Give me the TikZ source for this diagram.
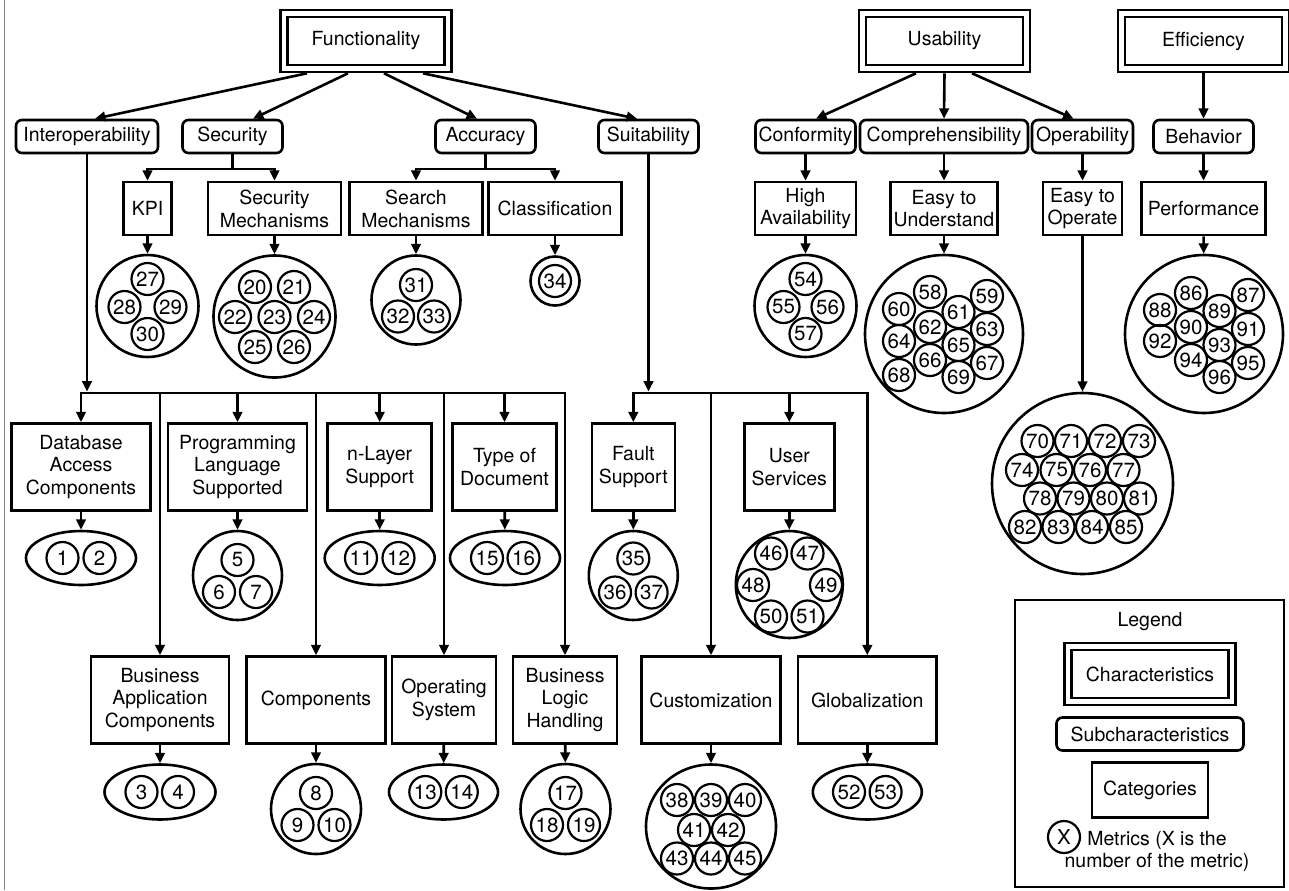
\documentclass[tikz,border=0pt]{standalone}
\usepackage{fontspec}
\setmainfont{TeX Gyre Heros}
\usetikzlibrary{shapes.geometric,arrows.meta,calc}
% one unit of the drawing grid
\newcommand\pxu{*0.75pt}
\begin{document}
\begin{tikzpicture}[x=0.75pt,y=-0.75pt,
  every node/.style={font=\fontsize{14.6}{17.1}\selectfont, align=center, inner sep=0pt},
  ln/.style={line width=2.6\pxu},
  arr/.style={ln, -{Triangle[length=7.8pt,width=7.2pt]}},
  bus/.style={ln, line cap=rect},
  charbox/.style={draw, ln, double, double distance=4.4\pxu, minimum width=164\pxu, minimum height=55\pxu},
  subbox/.style={draw, ln, rounded corners=6\pxu, minimum height=33\pxu},
  catbox/.style={draw, ln, minimum height=53\pxu},
  catbig/.style={draw, ln, minimum height=87\pxu},
  grp/.style={ellipse, draw, ln},
  met/.style={circle, draw, line width=2.2\pxu, minimum size=32\pxu, font=\fontsize{15.4}{17}\selectfont},
]
\useasboundingbox (0,0) rectangle (1289,890);
\draw[gray, line width=1.5\pxu] (4.5,0) -- (4.5,890);

% ---------- characteristics ----------
\node[charbox] (func) at (366,41) {Functionality};
\node[charbox] (usab) at (944.5,41) {Usability};
\node[charbox] (effi) at (1203.5,41) {Efficiency};

% ---------- subcharacteristics ----------
\node[subbox, minimum width=142\pxu] (interop) at (87,136.5) {Interoperability};
\node[subbox, minimum width=100\pxu] (sec) at (232.5,136.5) {Security};
\node[subbox, minimum width=100\pxu] (acc) at (485.5,136.5) {Accuracy};
\node[subbox, minimum width=100\pxu] (suit) at (648.5,136.5) {Suitability};
\node[subbox, minimum width=100\pxu] (conf) at (805.5,136.5) {Conformity};
\node[subbox, minimum width=168\pxu] (compr) at (944,136.5) {Comprehensibility};
\node[subbox, minimum width=101\pxu] (oper) at (1082.5,136.5) {Operability};
\node[subbox, minimum width=100\pxu] (behav) at (1203.5,136.5) {Behavior};

\draw[arr] ($(func.south)+(-59,3.5)$) -- ($(interop.north)+(8,0)$);
\draw[arr] ($(func.south)+(-18,3.5)$) -- ($(sec.north)+(20.5,0)$);
\draw[arr] ($(func.south)+(18,3.5)$) -- ($(acc.north)+(-8.5,0)$);
\draw[arr] ($(func.south)+(57,3.5)$) -- ($(suit.north)+(-11.5,0)$);
\draw[arr] ($(usab.south)+(-28.5,3.5)$) -- ($(conf.north)+(10.5,0)$);
\draw[arr] ($(usab.south)+(0,3.5)$) -- (compr.north);
\draw[arr] ($(usab.south)+(27.5,3.5)$) -- ($(oper.north)+(-9,0)$);
\draw[arr] ($(effi.south)+(0,3.5)$) -- (behav.north);

% ---------- upper categories ----------
\node[catbox, minimum width=48\pxu] (kpi) at (147.5,208.5) {KPI};
\node[catbox, minimum width=133\pxu] (secmech) at (274.5,208.5) {Security\\Mechanisms};
\node[catbox, minimum width=133\pxu] (searchm) at (416,208.5) {Search\\Mechanisms};
\node[catbox, minimum width=133\pxu] (classif) at (555,208.5) {Classification};
\node[catbox, minimum width=101\pxu] (highav) at (805.5,208.5) {High\\Availability};
\node[catbox, minimum width=107\pxu] (easyund) at (944,208.5) {Easy to\\Understand};
\node[catbox, minimum width=79\pxu] (easyop) at (1082.5,208.5) {Easy to\\Operate};
\node[catbox, minimum width=124\pxu] (perf) at (1203.5,208.5) {Performance};

\coordinate (secj) at (232.5,169);
\coordinate (accj) at (485.5,169);
\draw[ln] (sec.south) -- (secj);
\draw[arr] (secj) -| (kpi.north);
\draw[arr] (secj) -| (secmech.north);
\draw[ln] (acc.south) -- (accj);
\draw[arr] (accj) -| (searchm.north);
\draw[arr] (accj) -| (classif.north);
\draw[arr] (conf) -- (highav);
\draw[arr] (compr) -- (easyund);
\draw[arr] (oper) -- (easyop);
\draw[arr] (behav) -- (perf);

% ---------- upper metric groups ----------
\node[grp, minimum width=102\pxu, minimum height=102\pxu] (gkpi) at (147.5,306) {};
\node[grp, minimum width=122\pxu, minimum height=122\pxu] (gsec) at (274.5,316.5) {};
\node[grp, minimum width=89\pxu, minimum height=89\pxu] (gsearch) at (416,300) {};
\node[grp, minimum width=49\pxu, minimum height=49\pxu] (gclass) at (555,281) {};
\node[grp, minimum width=102\pxu, minimum height=102\pxu] (ghigh) at (805.5,306) {};
\node[grp, minimum width=158\pxu, minimum height=158\pxu] (gund) at (944,334) {};
\node[grp, minimum width=158\pxu, minimum height=158\pxu] (gperf) at (1204,334) {};
\node[grp, minimum width=181\pxu, minimum height=181\pxu] (gop) at (1082.5,483.5) {};

\draw[arr] (kpi) -- (gkpi);
\draw[arr] (secmech) -- (gsec);
\draw[arr] (searchm) -- (gsearch);
\draw[arr] (classif) -- (gclass);
\draw[arr] (highav) -- (ghigh);
\draw[arr] (easyund) -- (gund);
\draw[arr] (easyop) -- (gop);
\draw[arr] (perf) -- (gperf);

% ---------- lower categories ----------
\node[catbig, minimum width=138.5\pxu] (dac) at (81,467) {Database\\Access\\Components};
\node[catbig, minimum width=139\pxu] (pls) at (237.5,467) {Programming\\Language\\Supported};
\node[catbig, minimum width=104\pxu] (nlayer) at (379.7,467) {n-Layer\\Support};
\node[catbig, minimum width=104.5\pxu] (tod) at (504.5,467) {Type of\\Document};
\node[catbig, minimum width=83\pxu] (fault) at (633.3,467) {Fault\\Support};
\node[catbig, minimum width=90\pxu] (usersv) at (789.3,467) {User\\Services};

\node[catbig, minimum width=138\pxu] (bac) at (160,700) {Business\\Application\\Components};
\node[catbig, minimum width=138.6\pxu] (comp) at (316,700) {Components};
\node[catbig, minimum width=104\pxu] (os) at (444,700) {Operating\\System};
\node[catbig, minimum width=104\pxu] (blh) at (565,700) {Business\\Logic\\Handling};
\node[catbig, minimum width=138.6\pxu] (cust) at (711,700) {Customization};
\node[catbig, minimum width=138.6\pxu] (glob) at (867.3,700) {Globalization};

% interoperability bus
\coordinate (busL) at (81,393);
\coordinate (busR) at (565,393);
\coordinate (ij) at (87,391.5);
\draw[arr] (interop.south) -- (ij);
\draw[bus] (busL) -- (busR);
\draw[arr] (busL) -- (dac);
\draw[arr] (pls |- busL) -- (pls);
\draw[arr] (nlayer |- busL) -- (nlayer);
\draw[arr] (tod |- busL) -- (tod);
\draw[arr] (bac |- busL) -- (bac);
\draw[arr] (comp |- busL) -- (comp);
\draw[arr] (os |- busL) -- (os);
\draw[arr] (busR) -- (blh);

% suitability bus
\coordinate (sbusL) at (633.3,393);
\coordinate (sbusR) at (867.3,393);
\coordinate (sj) at (648.5,391.5);
\draw[arr] (suit.south) -- (sj);
\draw[bus] (sbusL) -- (sbusR);
\draw[arr] (sbusL) -- (fault);
\draw[arr] (usersv |- sbusL) -- (usersv);
\draw[arr] (cust |- sbusL) -- (cust);
\draw[arr] (sbusR) -- (glob);

% ---------- lower metric groups ----------
\node[grp, minimum width=110\pxu, minimum height=54\pxu] (gdac) at (81,558) {};
\node[grp, minimum width=89\pxu, minimum height=89\pxu] (gpls) at (237.5,575.5) {};
\node[grp, minimum width=110\pxu, minimum height=54\pxu] (gnl) at (379.7,558) {};
\node[grp, minimum width=110\pxu, minimum height=54\pxu] (gtod) at (505,558) {};
\node[grp, minimum width=89\pxu, minimum height=89\pxu] (gfault) at (633.3,575.5) {};
\node[grp, minimum width=107\pxu, minimum height=107\pxu] (gus) at (789.3,584.5) {};

\node[grp, minimum width=111\pxu, minimum height=55\pxu] (gbac) at (160,792) {};
\node[grp, minimum width=90\pxu, minimum height=90\pxu] (gcomp) at (316,809) {};
\node[grp, minimum width=109\pxu, minimum height=55\pxu] (gos) at (443.5,792) {};
\node[grp, minimum width=90\pxu, minimum height=90\pxu] (gblh) at (565.5,809) {};
\node[grp, minimum width=130\pxu, minimum height=124\pxu] (gcust) at (711,826.5) {};
\node[grp, minimum width=109\pxu, minimum height=55\pxu] (gglob) at (867.3,792) {};

\draw[arr] (dac) -- (gdac);
\draw[arr] (pls) -- (gpls);
\draw[arr] (nlayer) -- (gnl);
\draw[arr] (tod) -- (gtod);
\draw[arr] (fault) -- (gfault);
\draw[arr] (usersv) -- (gus);
\draw[arr] (bac) -- (gbac);
\draw[arr] (comp) -- (gcomp);
\draw[arr] (os) -- (gos);
\draw[arr] (blh) -- (gblh);
\draw[arr] (cust) -- (gcust);
\draw[arr] (glob) -- (gglob);

% ---------- metrics ----------
\foreach \n/\x/\y in {
  27/147.5/279, 28/124.5/307, 29/170.5/307, 30/147.5/334,
  20/255/287, 21/294/287, 22/235/317, 23/274.5/317, 24/314/317, 25/255/347, 26/294/347,
  31/416/285, 32/398/316.5, 33/434/316.5,
  34/555/281,
  54/805.5/279, 55/783.5/307, 56/827.5/307, 57/805.5/334,
  58/930/292, 59/987/296, 60/899/309, 61/958.5/312, 62/930/327, 63/987/329,
  64/899/341, 65/958.5/345, 66/930/360, 67/987/363, 68/899/375, 69/958.5/377,
  86/1191/293, 87/1248/295, 88/1160/310, 89/1219.5/311, 90/1191/327, 91/1248/329,
  92/1160/341, 93/1219.5/345, 94/1191/360, 95/1248/363, 96/1219.5/377,
  70/1037.5/441, 71/1071/441, 72/1105/441, 73/1139/441,
  74/1022/470, 75/1056.5/470, 76/1090/470, 77/1123.5/470,
  78/1040/498.5, 79/1073.5/498.5, 80/1107/498.5, 81/1140/498.5,
  82/1025/527, 83/1058.5/527, 84/1092/527, 85/1126/527,
  1/62.5/558, 2/99.5/558,
  5/237.5/560, 6/219/592, 7/256/592,
  11/361/558, 12/398.5/558,
  15/487/558, 16/523.5/558,
  35/633.3/558.5, 36/615/592.5, 37/651.6/592.5,
  46/771/553.5, 47/807.5/553.5, 48/753/585, 49/826/585, 50/771/616.5, 51/807.5/616.5,
  3/141.5/792, 4/178/792,
  8/316/793, 9/297.5/825, 10/334.5/825,
  13/425.3/792, 14/461.8/792,
  17/565.5/793, 18/547/825, 19/584/825,
  38/677/800, 39/711/800, 40/745/800, 41/694/830, 42/728/830,
  43/677/858.5, 44/711/858.5, 45/745/858.5,
  52/849/792, 53/885.6/792}
  \node[met] (m\n) at (\x,\y) {\n};

% ---------- legend ----------
\node[draw, ln, minimum width=269\pxu, minimum height=287\pxu] (legend) at (1149.5,743.5) {};
\node (legtitle) at (1150,622) {Legend};
\node[charbox] (legchar) at (1150,674) {Characteristics};
\node[subbox, minimum width=187\pxu] (legsub) at (1150,734) {Subcharacteristics};
\node[catbox, minimum width=116\pxu, minimum height=55\pxu] (legcat) at (1150,790) {Categories};
\node[met] (legx) at (1064,837) {X};
\node (legtxt) at (1157,851.5) {Metrics (X is the\\number of the metric)};
\end{tikzpicture}
\end{document}
